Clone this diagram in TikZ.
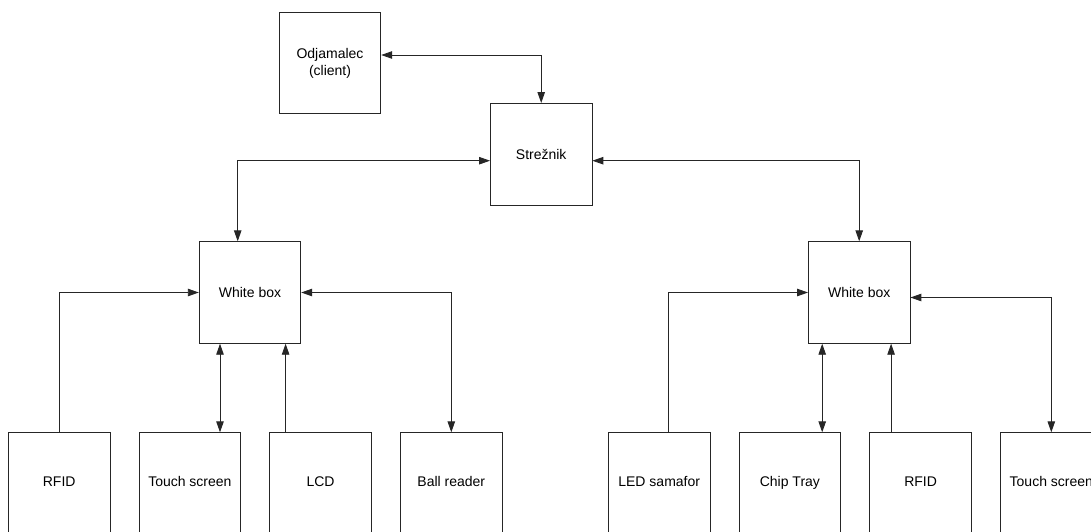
\documentclass[tikz,border=0pt]{standalone}
\usepackage{fontspec}
\setmainfont{Liberation Sans}
\usetikzlibrary{arrows.meta,positioning,calc}

\tikzset{
  blok/.style={draw=black!85,line width=0.9pt,minimum width=101.5pt,minimum height=101.5pt,
    inner sep=0pt,align=center,font=\fontsize{14}{17}\selectfont},
  povezava/.style={draw=black!85,line width=0.9pt},
  enosmerna/.style={povezava,-{Triangle[length=11pt,width=7.5pt]}},
  dvosmerna/.style={povezava,{Triangle[length=11pt,width=7.5pt]}-{Triangle[length=11pt,width=7.5pt]}}
}

\begin{document}
\begin{tikzpicture}[x=1pt,y=-1pt]
\clip (0,0) rectangle (1091,531);
\fill[white] (0,0) rectangle (1091,531);
% vrh
\node[blok] (odj) at (330,63) {Odjamalec\\(client)};
\node[blok] (srv) at (541.2,154.2) {Strežnik};
\node[blok] (wbL) at (250,292.5) {White box};
\node[blok] (wbR) at (859.2,292.5) {White box};
% spodnja vrsta, levo
\node[blok] (rfidL) at (59.2,483.5) {\strut RFID};
\node[blok,right=28.3pt of rfidL] (tsL) {\strut Touch screen};
\node[blok,right=28.3pt of tsL] (lcdL) {\strut LCD};
\node[blok,right=28.3pt of lcdL] (ballL) {\strut Ball reader};
% spodnja vrsta, desno
\node[blok] (ledR) at (659.2,483.5) {\strut LED samafor};
\node[blok,right=28.3pt of ledR] (chipR) {\strut Chip Tray};
\node[blok,right=28.3pt of chipR] (rfidR) {\strut RFID};
\node[blok,right=28.3pt of rfidR] (tsR) {\strut Touch screen};

% povezave
\draw[dvosmerna] ([yshift=8pt]odj.east) -| (srv.north);
\draw[dvosmerna] ([yshift=-6.5pt]srv.west) -| ([xshift=-12.3pt]wbL.north);
\draw[dvosmerna] ([yshift=-6.5pt]srv.east) -| (wbR.north);

\draw[enosmerna] (rfidL.north) |- (wbL.west);
\draw[dvosmerna] ([xshift=-30pt]wbL.south) -- ([xshift=-30pt]wbL.south |- tsL.north);
\draw[enosmerna] ([xshift=-35pt]lcdL.north) -- ([xshift=-35pt]lcdL.north |- wbL.south);
\draw[dvosmerna] (wbL.east) -| (ballL.north);

\draw[enosmerna] ([xshift=9pt]ledR.north) |- (wbR.west);
\draw[dvosmerna] ([xshift=-37pt]wbR.south) -- ([xshift=-37pt]wbR.south |- chipR.north);
\draw[enosmerna] ([xshift=-29.5pt]rfidR.north) -- ([xshift=-29.5pt]rfidR.north |- wbR.south);
\draw[dvosmerna] ([yshift=-5pt]wbR.east) -| (tsR.north);
\end{tikzpicture}
\end{document}
